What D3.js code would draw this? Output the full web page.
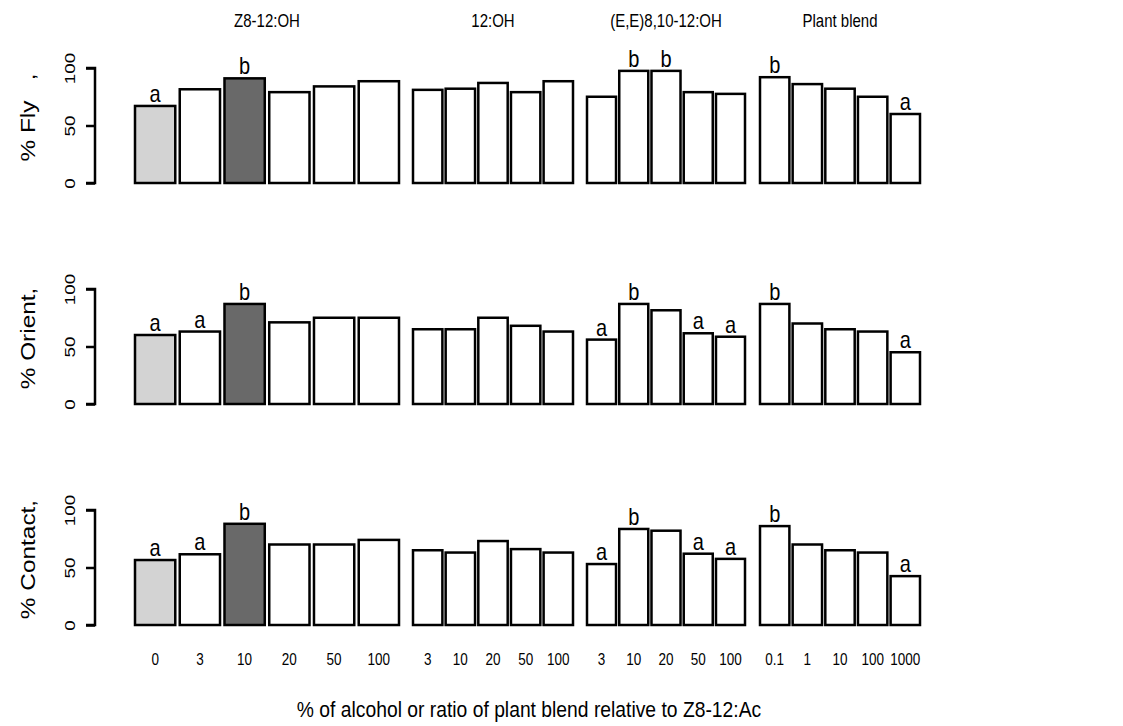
<!DOCTYPE html>
<html>
<head>
<meta charset="utf-8">
<script src="https://cdn.jsdelivr.net/npm/d3@7"></script>
<style>
  body { margin: 0; background: white; }
  svg text { font-family: "Liberation Sans", Arial, sans-serif; fill: black; white-space: pre; }
</style>
</head>
<body>
<div id="chart"></div>
<script>
const groupNames = ["Z8-12:OH", "12:OH", "(E,E)8,10-12:OH", "Plant blend"];
const doseLabels = [
    ["0", "3", "10", "20", "50", "100"],
    ["3", "10", "20", "50", "100"],
    ["3", "10", "20", "50", "100"],
    ["0.1", "1", "10", "100", "1000"]
];
const responseLabels = ["% Fly   ,", "% Orient,", "% Contact,"];
const yTicks = [0, 50, 100];

const flyValues = [
    [67, 81.5, 91, 79, 84, 88.5],
    [81, 82, 87, 79, 88.5],
    [75, 97.5, 97.5, 79, 77.5],
    [92, 86, 82, 75, 60]
];
const orientValues = [
    [60, 63, 87, 71, 75, 75],
    [65, 65, 75, 68, 63],
    [56, 87, 81.5, 61.5, 58.5],
    [87, 70, 65, 63, 45]
];
const contactValues = [
    [56.5, 61.5, 88, 70, 70, 74],
    [65, 63, 73, 66, 63],
    [53, 83.5, 82, 62, 57.5],
    [86, 70, 65, 63, 42.5]
];

const flyLetters = [
    ["a", "", "b", "", "", ""],
    ["", "", "", "", ""],
    ["", "b", "b", "", ""],
    ["b", "", "", "", "a"]
];
const orientLetters = [
    ["a", "a", "b", "", "", ""],
    ["", "", "", "", ""],
    ["a", "b", "", "a", "a"],
    ["b", "", "", "", "a"]
];
const contactLetters = [
    ["a", "a", "b", "", "", ""],
    ["", "", "", "", ""],
    ["a", "b", "", "a", "a"],
    ["b", "", "", "", "a"]
];

const allValues = [flyValues, orientValues, contactValues];
const allLetters = [flyLetters, orientLetters, contactLetters];

// layout
const wSvg = 1123, hSvg = 726;
const groupRanges = [[135, 399], [413, 573], [587, 745], [760, 920]];
const baselines = [183, 404, 625];
const panelHeight = 115;
const axisX = 95;
const stretch = 1.2; // text in the original is drawn taller than wide

// fills: control bar light grey, 10% Z8-12:OH dark grey
function barFill(g, i) {
    if (g == 0 && i == 0) return "#d3d3d3";
    if (g == 0 && i == 2) return "#696969";
    return "white";
}

const svg = d3.select("#chart")
    .append("svg")
    .attr("width", wSvg)
    .attr("height", hSvg);

let xScales = groupRanges.map((r, g) =>
    d3.scaleBand(doseLabels[g], r).paddingInner(0.1).paddingOuter(0));

// group titles
groupNames.forEach((name, g) => {
    svg.append("text")
        .attr("transform", `translate(${(groupRanges[g][0] + groupRanges[g][1]) / 2}, 27) scale(1, ${stretch})`)
        .attr("text-anchor", "middle")
        .style("font-size", "15px")
        .text(name);
});

allValues.forEach((panel, p) => {
    let yScale = d3.scaleLinear([0, 100], [baselines[p], baselines[p] - panelHeight]);

    let yAxis = d3.axisLeft(yScale).tickValues(yTicks).tickSize(9).tickPadding(0).tickFormat(d3.format("d"));
    let gAxis = svg.append("g")
        .attr("transform", `translate(${axisX}, 0)`)
        .call(yAxis);
    gAxis.select(".domain")
        .attr("d", `M-9,${yScale(0)}H0V${yScale(100)}H-9`)
        .attr("stroke", "black")
        .attr("stroke-width", 2.5)
        .attr("fill", "none");
    gAxis.selectAll(".tick line")
        .attr("stroke", "black")
        .attr("stroke-width", 2.5);
    gAxis.selectAll(".tick text")
        .attr("x", 0)
        .attr("y", 0)
        .attr("dy", null)
        .attr("transform", `translate(-20, 0) scale(1, 1.25) rotate(-90)`)
        .attr("text-anchor", "middle")
        .style("font-size", "15px")
        .style("font-family", "Liberation Sans, Arial, sans-serif");

    svg.append("text")
        .attr("transform", `translate(35, ${baselines[p] - panelHeight / 2 - 8}) scale(1, 1.22) rotate(-90)`)
        .attr("text-anchor", "middle")
        .style("font-size", "20px")
        .text(responseLabels[p]);

    panel.forEach((vals, g) => {
        let x = xScales[g];
        let doses = doseLabels[g];
        svg.append("g")
            .selectAll("rect")
            .data(vals)
            .join("rect")
            .attr("x", (d, i) => x(doses[i]))
            .attr("y", d => yScale(d))
            .attr("width", x.bandwidth())
            .attr("height", d => yScale(0) - yScale(d))
            .attr("fill", (d, i) => barFill(g, i))
            .attr("stroke", "black")
            .attr("stroke-width", 2.5);

        svg.append("g")
            .selectAll("text")
            .data(vals)
            .join("text")
            .attr("transform", (d, i) =>
                `translate(${x(doses[i]) + x.bandwidth() / 2}, ${yScale(d) - 4}) scale(1, ${stretch})`)
            .attr("text-anchor", "middle")
            .style("font-size", "20px")
            .text((d, i) => allLetters[p][g][i]);
    });
});

// dose tick labels under the bottom panel
xScales.forEach((x, g) => {
    svg.append("g")
        .selectAll("text")
        .data(doseLabels[g])
        .join("text")
        .attr("transform", d => `translate(${x(d) + x.bandwidth() / 2}, 665) scale(1, ${stretch})`)
        .attr("text-anchor", "middle")
        .style("font-size", "13.5px")
        .text(d => d);
});

svg.append("text")
    .attr("transform", `translate(529, 717) scale(1, 1.12)`)
    .attr("text-anchor", "middle")
    .style("font-size", "19.3px")
    .text("% of alcohol or ratio of plant blend relative to Z8-12:Ac");
</script>
</body>
</html>
